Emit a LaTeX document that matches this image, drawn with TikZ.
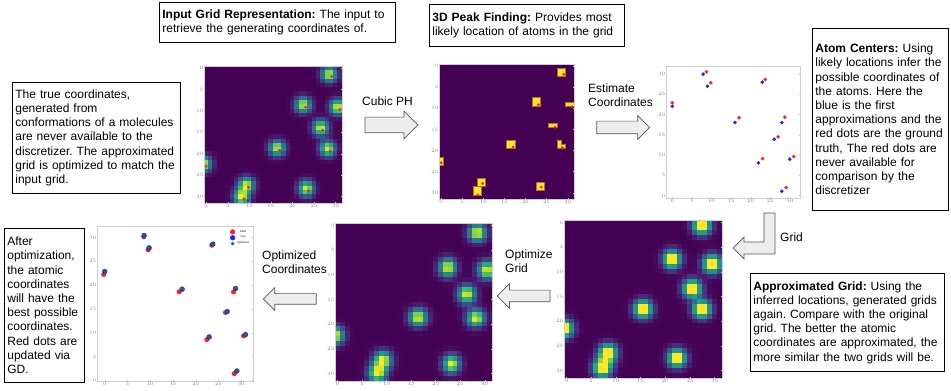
\documentclass[tikz,border=0pt]{standalone}
\usepackage{fontspec}
\setmainfont{Liberation Sans}
\usepackage{tikz}
\usepackage{pgfplots}
\pgfplotsset{compat=1.17}
\usetikzlibrary{arrows.meta,positioning,shapes.arrows}
\usepackage{xcolor}
\definecolor{vpurple}{HTML}{440154}
\definecolor{vyellow}{HTML}{FDE725}
\definecolor{pkedge}{HTML}{B36B3C}
\definecolor{arrfill}{HTML}{EDEDED}
\definecolor{arrline}{HTML}{555555}
\definecolor{frm}{HTML}{CFCFCF}
\definecolor{dred}{HTML}{FF2020}
\definecolor{dblue}{HTML}{2020FF}
\definecolor{dgreen}{HTML}{1F7A1F}

% blobs at the true atom centres (column, row)
\newcommand{\truesum}{gauss(x,y,8.73,30.56)+gauss(x,y,9.83,27.84)+gauss(x,y,0,22.90)+gauss(x,y,17.03,19.19)+gauss(x,y,23.73,28.67)+gauss(x,y,28.73,19.36)+gauss(x,y,27.03,14.50)+gauss(x,y,23.05,9.14)+gauss(x,y,31.02,9.64)+gauss(x,y,29.07,1.98)}
% blobs at the first approximations
\newcommand{\firstsum}{gauss(x,y,7.88,29.98)+gauss(x,y,8.98,27.02)+gauss(x,y,0,22.08)+gauss(x,y,16.02,18.04)+gauss(x,y,22.97,28.01)+gauss(x,y,27.97,18.04)+gauss(x,y,26.02,13.92)+gauss(x,y,21.95,8.07)+gauss(x,y,30.0,8.98)+gauss(x,y,27.97,1.07)}
% blobs after optimization
\newcommand{\optsum}{gauss(x,y,8.66,30.41)+gauss(x,y,9.76,27.82)+gauss(x,y,0,22.84)+gauss(x,y,17.02,19.13)+gauss(x,y,23.77,28.59)+gauss(x,y,28.76,19.27)+gauss(x,y,26.93,14.44)+gauss(x,y,22.96,9.11)+gauss(x,y,30.96,9.60)+gauss(x,y,29.06,1.96)}

\pgfplotsset{
  gridmap/.style={scale only axis, anchor=north west,
    xmin=-0.5, xmax=31.5, ymin=-0.5, ymax=31.5, y dir=reverse,
    xtick={0,5,...,30}, ytick={0,5,...,30},
    tick label style={font=\fontsize{2.6}{3}\selectfont, text=gray, inner sep=0.6pt},
    major tick length=1pt, tick style={gray!50}, axis line style={frm},
    colormap/viridis, point meta min=0, point meta max=1, axis on top},
  dotmap/.style={scale only axis, anchor=north west,
    xtick={0,5,...,30}, ytick={0,5,...,30},
    tick label style={font=\fontsize{2.6}{3}\selectfont, text=gray, inner sep=0.6pt},
    major tick length=1pt, tick style={gray!50}, axis line style={frm}},
}

\tikzset{
  infobox/.style={draw=black, line width=0.8pt, fill=white, align=left,
    anchor=north west, inner xsep=3pt, inner ysep=3pt,
    font=\fontsize{12}{14.2}\selectfont},
  steplabel/.style={align=left, anchor=north west, inner sep=0pt,
    font=\fontsize{12}{14}\selectfont},
  flowarrow/.style={single arrow, draw=arrline, fill=arrfill, line width=0.7pt,
    single arrow tip angle=90, inner xsep=0pt, minimum height=53pt},
  flowpath/.style={draw=arrline, fill=arrfill, line width=0.7pt, line join=miter},
  pkblock/.style={fill=vyellow, draw=pkedge, line width=0.5pt},
}

\begin{document}
\frenchspacing
\begin{tikzpicture}[x=1pt, y=1pt,
    declare function={gauss(\gx,\gy,\cx,\cy)=exp(-((\gx+1-\cx)^2+(\gy+1-\cy)^2)/2.9);}]
  \useasboundingbox (0,0) rectangle (951,391);
  \fill[white] (0,0) rectangle (951,391);

  % where the six plots sit
  \coordinate (gin) at (204,325);
  \coordinate (gpeak) at (439,327);
  \coordinate (gatom) at (666,325);
  \coordinate (gfinal) at (97,165);
  \coordinate (gopt) at (335,168);
  \coordinate (gapprox) at (564,171);

  % TOP ROW
  \begin{axis}[gridmap, at={(gin)}, width=138pt, height=137pt, view={0}{90}, ztick=\empty]
    \addplot3[surf, shader=flat corner, domain=-0.5:31.5, samples=33] {0.97*(\truesum)};
    \addplot[only marks, mark=*, mark size=1.2pt, dred] coordinates {
      (8.73,30.56) (9.83,27.84) (0,22.90) (17.03,19.19) (23.73,28.67)
      (28.73,19.36) (27.03,14.50) (23.05,9.14) (31.02,9.64) (29.07,1.98)};
  \end{axis}

  \begin{axis}[gridmap, at={(gpeak)}, width=135pt, height=135pt,
      axis background/.style={fill=vpurple}]
    % peak cells
    \fill[pkblock] (27.5,0.5) rectangle (29.5,2.5);
    \fill[pkblock] (21.5,7.5) rectangle (23.5,9.5);
    \fill[pkblock] (29.5,8.5) rectangle (31.5,9.5);
    \fill[pkblock] (25.5,13.5) rectangle (27.5,14.5);
    \fill[pkblock] (15.5,17.5) rectangle (17.5,19.5);
    \fill[pkblock] (27.5,17.5) -- (28.5,17.5) -- (28.5,18.5) -- (29.5,18.5)
      -- (29.5,19.5) -- (27.5,19.5) -- cycle;
    \fill[pkblock] (-0.5,21.5) rectangle (0.5,23.5);
    \fill[pkblock] (8.5,26.5) rectangle (10.5,28.5);
    \fill[pkblock] (7.5,28.5) rectangle (9.5,30.5);
    \fill[pkblock] (22.5,27.5) rectangle (24.5,29.5);
    \addplot[only marks, mark=*, mark size=1.2pt, dred] coordinates {
      (8.73,30.56) (9.83,27.84) (0,22.90) (17.03,19.19) (23.73,28.67)
      (28.73,19.36) (27.03,14.50) (23.05,9.14) (31.02,9.64) (29.07,1.98)};
  \end{axis}

  \begin{axis}[dotmap, at={(gatom)}, width=134pt, height=132pt,
      xmin=-1.6, xmax=32.6, ymin=-0.6, ymax=32.0]
    \addplot[only marks, mark=*, mark size=1.6pt, dred] coordinates {
      (8.73,30.56) (9.83,27.84) (0,22.90) (17.03,19.19) (23.73,28.67)
      (28.73,19.36) (27.03,14.50) (23.05,9.14) (31.02,9.64) (29.07,1.98)};
    \addplot[only marks, mark=*, mark size=1.6pt, dblue] coordinates {
      (7.88,29.98) (8.98,27.02) (0,22.08) (16.02,18.04) (22.97,28.01)
      (27.97,18.04) (26.02,13.92) (21.95,8.07) (30.0,8.98) (27.97,1.07)};
  \end{axis}

  % BOTTOM ROW
  \begin{axis}[dotmap, at={(gfinal)}, width=156pt, height=155pt,
      xmin=-1.7, xmax=32.6, ymin=-0.14, ymax=32.4,
      legend style={at={(0.99,0.99)}, anchor=north east, draw=none, fill=none,
        font=\fontsize{2.6}{3}\selectfont, inner sep=0.5pt, row sep=-1.5pt}]
    \addplot[only marks, mark=*, mark size=2.3pt, dred] coordinates {
      (8.58,30.13) (9.54,27.40) (-0.22,22.21) (16.36,18.57) (23.55,28.38)
      (28.32,18.57) (26.56,14.23) (22.45,8.55) (30.52,9.32) (28.47,1.40)};
    \addplot[only marks, mark=*, mark size=2.4pt, dblue] coordinates {
      (8.66,30.41) (9.76,27.82) (0,22.84) (17.02,19.13) (23.77,28.59)
      (28.76,19.27) (26.93,14.44) (22.96,9.11) (30.96,9.60) (29.06,1.96)};
    \addplot[only marks, mark=*, mark size=1.6pt, dgreen] coordinates {
      (8.66,30.41) (9.76,27.82) (0,22.84) (17.02,19.13) (23.77,28.59)
      (28.76,19.27) (26.93,14.44) (22.96,9.11) (30.96,9.60) (29.06,1.96)};
    \legend{Initial, True, Optimized}
  \end{axis}

  \begin{axis}[gridmap, at={(gopt)}, width=157pt, height=158pt, view={0}{90}, ztick=\empty]
    \addplot3[surf, shader=flat corner, domain=-0.5:31.5, samples=33] {1.0*(\optsum)};
  \end{axis}

  \begin{axis}[gridmap, at={(gapprox)}, width=158pt, height=158pt, view={0}{90}, ztick=\empty]
    \addplot3[surf, shader=flat corner, domain=-0.5:31.5, samples=33] {1.25*(\firstsum)};
  \end{axis}

  % text boxes
  \node[infobox, text width=230pt, minimum height=40pt] (inbox) at (159,389)
    {\textbf{Input Grid Representation:} The input to\\retrieve the generating coordinates of.};
  \node[infobox, text width=189pt, minimum height=42pt] (peakbox) at (429,387)
    {\textbf{3D Peak Finding:} Provides most\\likely location of atoms in the grid};
  \node[infobox, text width=162pt, minimum height=111pt] (truebox) at (12,309)
    {The true coordinates,\\generated from\\conformations of a molecules\\are never available to the\\discretizer. The approximated\\grid is optimized to match the\\input grid.};
  \node[infobox, text width=130pt, minimum height=182pt] (atombox) at (812,363)
    {\textbf{Atom Centers:} Using\\likely locations infer the\\possible coordinates of\\the atoms. Here the\\blue is the first\\approximations and the\\red dots are the ground\\truth, The red dots are\\never available for\\comparison by the\\discretizer};
  \node[infobox, text width=74pt, minimum height=154pt] (afterbox) at (4,163)
    {After\\optimization,\\the atomic\\coordinates\\will have the\\best possible\\coordinates.\\Red dots are\\updated via\\GD.};
  \node[infobox, text width=188pt, minimum height=98pt] (approxbox) at (750,118)
    {\textbf{Approximated Grid:} Using the\\inferred locations, generated grids\\again. Compare with the original\\grid. The better the atomic\\coordinates are approximated, the\\more similar the two grids will be.};

  % step arrows
  \node[flowarrow, inner ysep=7.5pt, single arrow head extend=6pt] (cubic) at (387.5,266) {};
  \node[flowarrow, inner ysep=6pt, single arrow head extend=5.5pt] (estim) at (620,263.5) {};
  \node[flowarrow, inner ysep=5.5pt, single arrow head extend=6.5pt, shape border rotate=180] (optgrid) at (526.5,95) {};
  \node[flowarrow, inner ysep=5pt, single arrow head extend=6pt, shape border rotate=180] (optcoord) at (292.5,92) {};
  \draw[flowpath] (775,178) -- (775,137) -- (744,137) -- (744,132) -- (733,143)
    -- (744,154) -- (744,149) -- (764,149) -- (764,178) -- cycle;

  \node[steplabel] (cubiclbl) at (362,294) {Cubic PH};
  \node[steplabel] (estimlbl) at (588,307) {Estimate\\Coordinates};
  \node[steplabel] (gridlbl) at (780,158) {Grid};
  \node[steplabel] (optgridlbl) at (505,141) {Optimize\\Grid};
  \node[steplabel] (optcoordlbl) at (262,140) {Optimized\\Coordinates};
\end{tikzpicture}
\end{document}
